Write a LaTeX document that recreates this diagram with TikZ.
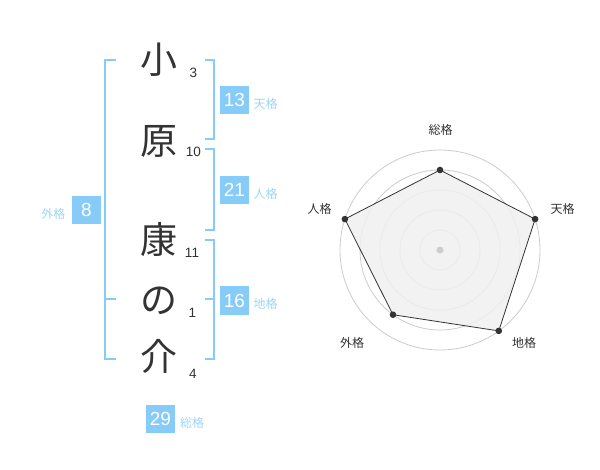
\documentclass[tikz,border=0pt]{standalone}
\usepackage{fontspec}
\setmainfont{Liberation Sans}
\newfontfamily\cjk{Noto Sans CJK JP}
\definecolor{skyb}{HTML}{87CCF8}
\definecolor{skyt}{HTML}{9DD6F8}
\definecolor{ink}{HTML}{333333}
\definecolor{ring}{HTML}{CCCCCC}
\definecolor{area}{HTML}{F0F0F0}
\begin{document}
\begin{tikzpicture}[x=1pt,y=-1pt,
  kanji/.style={inner sep=0pt,text=ink,font=\cjk\fontsize{37}{37}\selectfont},
  stroke/.style={inner sep=0pt,text=ink,font=\fontsize{13.5}{13.5}\selectfont},
  numbox/.style={fill=skyb,text=white,minimum width=28.5pt,minimum height=28.5pt,inner sep=0pt,font=\fontsize{19}{19}\selectfont},
  kaku/.style={inner sep=0pt,text=skyt,font=\cjk\fontsize{12}{12}\selectfont},
  bracket/.style={draw=skyb,line width=2pt},
  radlab/.style={inner sep=0pt,text=ink,font=\cjk\fontsize{12}{12}\selectfont},
  ringc/.style={draw=ring,line width=0.8pt},
  dot/.style={fill=ink}]
\useasboundingbox (0,0) rectangle (600,470);
\fill[white] (0,0) rectangle (600,470);
% name characters
\node[kanji] (c1) at (159,60) {小};
\node[kanji] (c2) at (159,141) {原};
\node[kanji] (c3) at (159,240) {康};
\node[kanji] (c4) at (159,301) {の};
\node[kanji] (c5) at (159,356) {介};
% stroke counts
\node[stroke] (s1) at (193.5,72.5) {3};
\node[stroke] (s2) at (193.5,152) {10};
\node[stroke] (s3) at (192,253) {11};
\node[stroke] (s4) at (192.5,313) {1};
\node[stroke] (s5) at (193,374) {4};
% right brackets
\draw[bracket] (205,60) -- (214,60) -- (214,139) -- (205,139);
\draw[bracket] (205,149) -- (214,149) -- (214,230) -- (205,230);
\draw[bracket] (205,240) -- (214,240) -- (214,359) -- (205,359);
\draw[bracket] (205,299.5) -- (214,299.5);
% left bracket
\draw[bracket] (116,60) -- (105,60) -- (105,359) -- (116,359);
\draw[bracket] (105,299.5) -- (116,299.5);
% boxes
\node[numbox] (b1) at (234.5,100) {13};
\node[kaku] (k1) at (265.5,104) {天格};
\node[numbox] (b2) at (234.5,190) {21};
\node[kaku] (k2) at (265.5,194) {人格};
\node[numbox] (b3) at (234.5,300.5) {16};
\node[kaku] (k3) at (265.5,304) {地格};
\node[numbox] (b4) at (86.5,210) {8};
\node[kaku] (k4) at (53.5,214) {外格};
\node[numbox] (b5) at (160.5,419) {29};
\node[kaku] (k5) at (192,423) {総格};
% radar
\coordinate (o) at (440,250);
\foreach \r in {20,40,60,80,100} \draw[ringc] (o) circle[radius=\r];
\coordinate (p1) at (440,170);
\coordinate (p2) at (535.11,219.10);
\coordinate (p3) at (498.78,330.90);
\coordinate (p4) at (392.98,314.72);
\coordinate (p5) at (344.89,219.10);
\filldraw[fill=area,fill opacity=0.85,draw=ink,line width=0.8pt] (p1) -- (p2) -- (p3) -- (p4) -- (p5) -- cycle;
\foreach \p in {p1,p2,p3,p4,p5} \fill[ink] (\p) circle[radius=3.3];
\fill[ring] (o) circle[radius=3.5];
\node[radlab] (r1) at (440.5,129.5) {総格};
\node[radlab] (r2) at (562.5,208.5) {天格};
\node[radlab] (r3) at (524,342.5) {地格};
\node[radlab] (r4) at (352,342.5) {外格};
\node[radlab] (r5) at (319.5,208.5) {人格};
\end{tikzpicture}
\end{document}
